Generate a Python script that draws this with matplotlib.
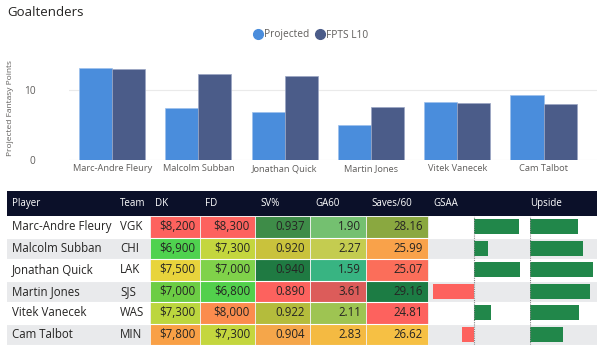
import matplotlib
matplotlib.use("Agg")
import numpy as np
import matplotlib.pyplot as plt
from matplotlib.patches import Rectangle
from matplotlib.lines import Line2D

plt.rcParams['font.family'] = ['Open Sans', 'DejaVu Sans']

# ---- data ----
players = ['Marc-Andre Fleury', 'Malcolm Subban', 'Jonathan Quick',
           'Martin Jones', 'Vitek Vanecek', 'Cam Talbot']
teams = ['VGK', 'CHI', 'LAK', 'SJS', 'WAS', 'MIN']
projected = [13.1, 7.35, 6.8, 5.0, 8.3, 9.25]
fpts_l10 = [13.0, 12.2, 12.0, 7.6, 8.1, 7.9]

dk = ['$8,200', '$6,900', '$7,500', '$7,000', '$7,300', '$7,800']
fd = ['$8,300', '$7,300', '$7,000', '$6,800', '$8,000', '$7,300']
sv_pct = ['0.937', '0.920', '0.940', '0.890', '0.922', '0.904']
ga60 = ['1.90', '2.27', '1.59', '3.61', '2.11', '2.83']
saves60 = ['28.16', '25.99', '25.07', '29.16', '24.81', '26.62']
gsaa = [5.63, 1.71, 5.75, -5.16, 2.05, -1.54]
upside = [24.0, 26.4, 31.4, 30.0, 24.5, 16.4]

# conditional formatting colours, one list per column
dk_col = ['#fd625e', '#4fd24f', '#e8d43c', '#6ccd44', '#bcd63e', '#f9a046']
fd_col = ['#fd625e', '#c4d63e', '#80d24a', '#52d04c', '#fb8c4e', '#c4d63e']
sv_col = ['#3e8c48', '#c9c23c', '#1f7a42', '#fd625e', '#b4bc3c', '#f5a64a']
ga_col = ['#74c070', '#c4cc50', '#38b482', '#dc5c5a', '#9ec452', '#f4ba42']
saves_col = ['#8aa840', '#f9a24a', '#fb6e5a', '#1c7c44', '#fd625e', '#f6c044']

BLUE = '#4a8ddc'
NAVY = '#4b5c89'
GREY_TXT = '#605e5c'
DARK_TXT = '#252423'
BAR_GREEN = '#21874a'
BAR_RED = '#fd625e'

W, H = 600, 345


def fx(px):
    return px / W


def fy(py):
    return 1 - py / H


fig = plt.figure(figsize=(6, 3.45), dpi=100)

# ---- bar chart ----
ax = fig.add_axes([fx(69), fy(160), fx(597 - 69), (160 - 55) / H])
x = np.arange(len(players))
bw = 0.383
ax.bar(x - bw / 2, projected, bw, color=BLUE, edgecolor='#9cc0ec', linewidth=0.5, zorder=3)
ax.bar(x + bw / 2, fpts_l10, bw, color=NAVY, edgecolor='#9aa5c4', linewidth=0.5, zorder=3)
ax.set_ylim(0, 14.94)
ax.set_xlim(-0.5, 5.62)
ax.set_yticks([0, 10])
ax.set_yticklabels(['0', '10'])
ax.set_xticks(x)
ax.set_xticklabels(players)
ax.tick_params(axis='both', length=0, colors=GREY_TXT)
ax.tick_params(axis='y', pad=24, labelsize=7.3)
ax.tick_params(axis='x', pad=3, labelsize=6.7)
for s in ax.spines.values():
    s.set_visible(False)
ax.grid(axis='y', color='#eaeaea', linewidth=0.8, zorder=0)
ax.set_axisbelow(True)
fig.text(fx(11), fy(108), 'Projected Fantasy Points', rotation=90,
         ha='center', va='center', fontsize=6, color=GREY_TXT)

fig.text(fx(7), fy(12), 'Goaltenders', fontsize=9.5, color='#252423',
         ha='left', va='center')

handles = [Line2D([], [], marker='o', linestyle='', color=BLUE, markersize=7),
           Line2D([], [], marker='o', linestyle='', color=NAVY, markersize=7)]
fig.legend(handles, ['Projected', 'FPTS L10'], loc='center',
           bbox_to_anchor=(fx(310), fy(35)), ncol=2, frameon=False,
           fontsize=7.3, handletextpad=0.0, columnspacing=0.4,
           labelcolor=GREY_TXT, handlelength=1.2)

# ---- table ----
tb = fig.add_axes([0, 0, 1, 1])
tb.set_xlim(0, W)
tb.set_ylim(H, 0)
tb.axis('off')

left, right = 7, 597
head_top, head_bot = 191, 216
row_h = (H - head_bot) / len(players)

tb.add_patch(Rectangle((left, head_top), right - left, head_bot - head_top,
                       color='#0b1029', lw=0))
headers = [('Player', 12), ('Team', 120), ('DK', 155), ('FD', 205),
           ('SV%', 260), ('GA60', 315), ('Saves/60', 371), ('GSAA', 433),
           ('Upside', 530)]
for name, hx in headers:
    tb.text(hx, (head_top + head_bot) / 2, name, color='white', fontsize=7,
            ha='left', va='center')

cols = [(150, 200, dk, dk_col), (200, 255, fd, fd_col), (255, 310, sv_pct, sv_col),
        (310, 366, ga60, ga_col), (366, 428, saves60, saves_col)]

for i in range(len(players)):
    top = head_bot + i * row_h
    cy = top + row_h / 2
    bg = '#e9eaec' if i % 2 else 'white'
    tb.add_patch(Rectangle((left, top), right - left, row_h, color=bg, lw=0))
    tb.plot([left, right], [top + row_h, top + row_h], color='white', lw=0.8)
    tb.text(12, cy, players[i], fontsize=8.3, color=DARK_TXT, ha='left', va='center')
    tb.text(120, cy, teams[i], fontsize=8.3, color=DARK_TXT, ha='left', va='center')
    for c0, c1, vals, colors in cols:
        tb.add_patch(Rectangle((c0, top), c1 - c0, row_h, facecolor=colors[i],
                               edgecolor='#f2f2f2', lw=0.6))
        tb.text(c1 - 5, cy, vals[i], fontsize=8.3, color=DARK_TXT,
                ha='right', va='center')

# GSAA bars
ga = fig.add_axes([fx(428), fy(H), fx(528 - 428), (H - head_bot) / H])
ga.patch.set_alpha(0)
ga.axis('off')
rows = np.arange(len(players))
ga.barh(rows, gsaa, height=0.7, color=[BAR_GREEN if v > 0 else BAR_RED for v in gsaa])
ga.axvline(0, color='#888888', lw=0.8, ls=(0, (1, 1)))
ga.set_xlim(-5.79, 6.71)
ga.set_ylim(5.5, -0.5)

# Upside bars
up = fig.add_axes([fx(530), fy(H), fx(597 - 530), (H - head_bot) / H])
up.patch.set_alpha(0)
up.axis('off')
up.barh(rows, upside, height=0.7, color=BAR_GREEN)
up.axvline(0, color='#888888', lw=0.8, ls=(0, (1, 1)))
up.set_xlim(0, 33.5)
up.set_ylim(5.5, -0.5)

fig.savefig('out.png', dpi=100)
